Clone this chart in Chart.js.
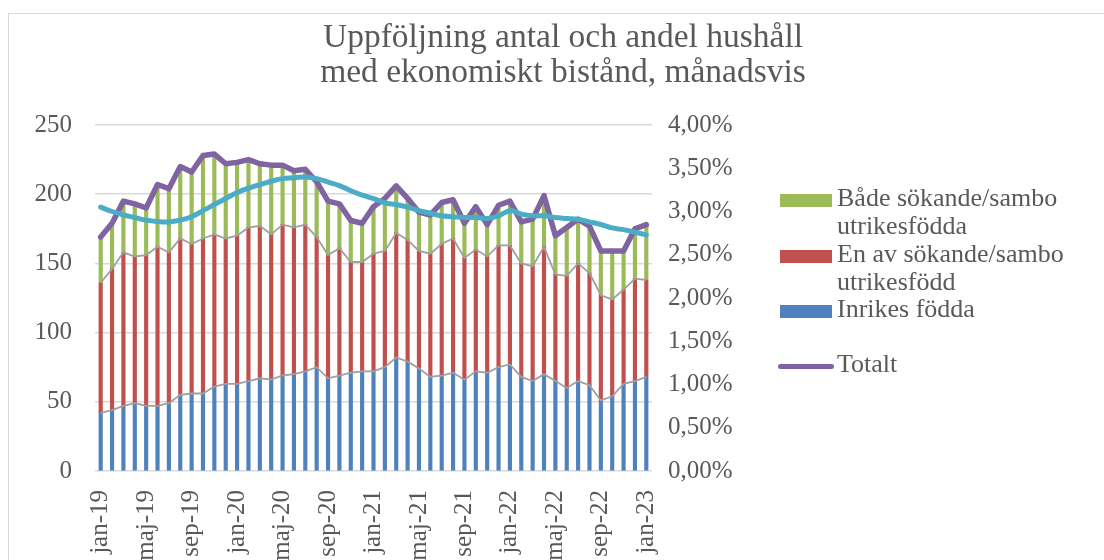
<!DOCTYPE html>
<html lang="sv">
<head>
<meta charset="utf-8">
<script src="https://cdn.jsdelivr.net/npm/chart.js@4.4.1/dist/chart.umd.min.js"></script>
<style>
  html, body { margin: 0; padding: 0; background: #fff; }
  #wrap { position: relative; width: 1104px; height: 560px; overflow: hidden; background: #fff; }
  #frame { position: absolute; left: 8px; top: 13px; width: 1300px; height: 800px; border: 1.5px solid #d9d9d9; }
  #chart { position: absolute; left: 0; top: 0; }
  #title { position: absolute; left: 0; top: 18px; width: 1126px; text-align: center;
           font: 33.5px "Liberation Serif", serif; line-height: 35px; color: #595959; }
  .lg-text { position: absolute; left: 837px; font: 26px "Liberation Serif", serif; line-height: 28px;
             color: #595959; white-space: pre-line; }
  .lg-box { position: absolute; left: 780px; width: 52px; height: 13px; }
  .lg-line { position: absolute; left: 778px; width: 56px; height: 5px; border-radius: 3px; }
</style>
</head>
<body>
<div id="wrap">
  <div id="frame"></div>
  <canvas id="chart" width="1104" height="620"></canvas>
  <div id="title">Uppföljning antal och andel hushåll<br>med ekonomiskt bistånd, månadsvis</div>
  <div id="legend"></div>
</div>
<script>
const labels = [
  "jan-19", "feb-19", "mar-19", "apr-19", "maj-19", "jun-19", "jul-19", "aug-19", "sep-19", "okt-19", "nov-19", "dec-19",
  "jan-20", "feb-20", "mar-20", "apr-20", "maj-20", "jun-20", "jul-20", "aug-20", "sep-20", "okt-20", "nov-20", "dec-20",
  "jan-21", "feb-21", "mar-21", "apr-21", "maj-21", "jun-21", "jul-21", "aug-21", "sep-21", "okt-21", "nov-21", "dec-21",
  "jan-22", "feb-22", "mar-22", "apr-22", "maj-22", "jun-22", "jul-22", "aug-22", "sep-22", "okt-22", "nov-22", "dec-22",
  "jan-23"
];

const inrikes = [
  42, 44, 47, 49, 47, 47, 49, 55, 56, 56, 61, 63,
  63, 65, 67, 66, 69, 70, 72, 75, 67, 69, 71, 72,
  72, 75, 82, 79, 74, 68, 69, 71, 66, 72, 71, 75,
  77, 68, 65, 70, 65, 60, 65, 62, 51, 54, 63, 65,
  68
];

const enAv = [
  94, 102, 111, 106, 109, 115, 109, 113, 108, 112, 110, 105,
  107, 111, 110, 105, 109, 106, 106, 94, 89, 92, 80, 79,
  85, 84, 90, 88, 85, 89, 95, 97, 88, 88, 84, 88,
  86, 82, 83, 92, 77, 81, 85, 81, 76, 70, 68, 74,
  70
];

const bada = [
  33, 33, 37, 38, 34, 45, 46, 52, 52, 60, 58, 54,
  53, 49, 45, 50, 43, 41, 40, 40, 39, 32, 30, 28,
  34, 38, 34, 30, 28, 28, 30, 28, 25, 31, 23, 29,
  32, 30, 34, 37, 28, 35, 32, 34, 32, 35, 28, 36,
  40
];

const totalt = [
  169, 179, 195, 193, 190, 207, 204, 220, 216, 228, 229, 222,
  223, 225, 222, 221, 221, 217, 218, 209, 195, 193, 181, 179,
  191, 197, 206, 197, 187, 185, 194, 196, 179, 191, 178, 192,
  195, 180, 182, 199, 170, 176, 182, 177, 159, 159, 159, 175,
  178
];

// andel hushåll, procent (höger axel)
const andel = [
  3.05, 3.00, 2.96, 2.93, 2.90, 2.885, 2.88, 2.90, 2.94, 3.01, 3.08, 3.15,
  3.22, 3.27, 3.31, 3.35, 3.38, 3.39, 3.40, 3.38, 3.34, 3.30, 3.24, 3.19,
  3.15, 3.10, 3.08, 3.05, 3.01, 2.98, 2.95, 2.94, 2.93, 2.93, 2.92, 2.95,
  3.01, 2.97, 2.95, 2.95, 2.93, 2.92, 2.91, 2.88, 2.85, 2.81, 2.79, 2.76,
  2.73
];

// serielinjer mellan staplarna
const nivaInrikes = inrikes.slice();
const nivaEnAv = inrikes.map((v, i) => v + enAv[i]);

const textColor = "#595959";
const gridColor = "#d9d9d9";
const tickFont = { family: "Liberation Serif", size: 25 };

const barStyle = { type: "bar", stack: "hushall", order: 4, barThickness: 3.5 };
const seriesLine = { type: "line", borderColor: "#a0a0a0", borderWidth: 1.8, pointRadius: 0, order: 3 };

new Chart(document.getElementById("chart"), {
  data: {
    labels: labels,
    datasets: [
      { ...barStyle, label: "Inrikes födda", data: inrikes, backgroundColor: "#4F81BD" },
      { ...barStyle, label: "En av sökande/sambo utrikesfödd", data: enAv, backgroundColor: "#C0504D" },
      { ...barStyle, label: "Både sökande/sambo utrikesfödda", data: bada, backgroundColor: "#9BBB59" },
      { ...seriesLine, label: "serie1", data: nivaInrikes, stack: "s1" },
      { ...seriesLine, label: "serie2", data: nivaEnAv, stack: "s2" },
      {
        type: "line", label: "Totalt", data: totalt, stack: "s3",
        borderColor: "#8064A2", borderWidth: 5.5, pointRadius: 0,
        borderJoinStyle: "round", borderCapStyle: "round", order: 2
      },
      {
        type: "line", label: "Andel", data: andel, yAxisID: "y2",
        borderColor: "#4BACC6", borderWidth: 5, pointRadius: 0, tension: 0.4,
        borderCapStyle: "round", order: 1
      }
    ]
  },
  options: {
    responsive: false,
    animation: false,
    devicePixelRatio: 1,
    layout: { padding: { top: 125, left: 0, right: 0, bottom: 0 } },
    plugins: {
      legend: { display: false },
      title: { display: false },
      tooltip: { enabled: false }
    },
    scales: {
      x: {
        offset: true,
        grid: { display: false },
        border: { display: false },
        ticks: {
          autoSkip: false,
          minRotation: 90,
          maxRotation: 90,
          padding: 11,
          color: textColor,
          font: tickFont,
          callback: function (value, index) {
            return index % 4 === 0 ? labels[index] : "";
          }
        },
        afterFit: function (scale) { scale.height = 149; }
      },
      y: {
        position: "left",
        stacked: true,
        min: 0,
        max: 250,
        border: { display: false },
        grid: { color: gridColor, lineWidth: 1.5, drawTicks: false },
        ticks: { stepSize: 50, padding: 23, color: textColor, font: tickFont },
        afterFit: function (scale) { scale.width = 95; }
      },
      y2: {
        position: "right",
        min: 0,
        max: 4,
        border: { display: false },
        grid: { display: false, drawTicks: false },
        ticks: {
          stepSize: 0.5,
          padding: 16,
          color: textColor,
          font: tickFont,
          callback: function (v) { return v.toFixed(2).replace(".", ",") + "%"; }
        },
        afterFit: function (scale) { scale.width = 452; }
      }
    }
  }
});

// förklaring
const legendItems = [
  { text: "Både sökande/sambo\nutrikesfödda", color: "#9BBB59", kind: "box", top: 184 },
  { text: "En av sökande/sambo\nutrikesfödd", color: "#C0504D", kind: "box", top: 240 },
  { text: "Inrikes födda", color: "#4F81BD", kind: "box", top: 295 },
  { text: "Totalt", color: "#8064A2", kind: "line", top: 350 }
];
const legendEl = document.getElementById("legend");
legendItems.forEach(function (item) {
  const mark = document.createElement("div");
  mark.className = item.kind === "box" ? "lg-box" : "lg-line";
  mark.style.background = item.color;
  mark.style.top = (item.kind === "box" ? item.top + 10 : item.top + 14) + "px";
  legendEl.appendChild(mark);
  const t = document.createElement("div");
  t.className = "lg-text";
  t.style.top = item.top + "px";
  t.textContent = item.text;
  legendEl.appendChild(t);
});
</script>
</body>
</html>
